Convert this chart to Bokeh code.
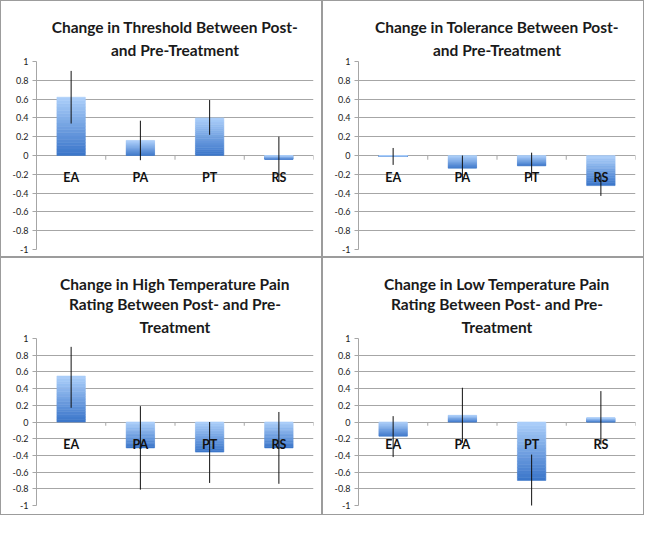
from bokeh.plotting import figure
from bokeh.layouts import gridplot
from bokeh.models import FixedTicker, ColumnDataSource, Title
from bokeh.core.properties import value
from bokeh.embed import file_html
from bokeh.resources import INLINE

categories = ["EA", "PA", "PT", "RS"]
y_ticks = [-1, -0.8, -0.6, -0.4, -0.2, 0, 0.2, 0.4, 0.6, 0.8, 1]
y_tick_labels = ["-1", "-0.8", "-0.6", "-0.4", "-0.2", "0", "0.2", "0.4", "0.6", "0.8", "1"]

titles = [
    ["Change in Threshold Between Post-", "and Pre-Treatment"],
    ["Change in Tolerance Between Post-", "and Pre-Treatment"],
    ["Change in High Temperature Pain", "Rating Between Post- and Pre-", "Treatment"],
    ["Change in Low Temperature Pain", "Rating Between Post- and Pre-", "Treatment"],
]

threshold_mean = [0.62, 0.16, 0.40, -0.04]
threshold_low = [0.34, -0.05, 0.22, -0.28]
threshold_high = [0.90, 0.37, 0.59, 0.20]

tolerance_mean = [-0.01, -0.135, -0.11, -0.32]
tolerance_low = [-0.10, -0.26, -0.27, -0.43]
tolerance_high = [0.08, 0.0, 0.03, -0.21]

high_temp_mean = [0.55, -0.31, -0.36, -0.31]
high_temp_low = [0.17, -0.81, -0.73, -0.74]
high_temp_high = [0.90, 0.19, 0.0, 0.12]

low_temp_mean = [-0.17, 0.08, -0.70, 0.05]
low_temp_low = [-0.42, -0.25, -1.01, -0.27]
low_temp_high = [0.07, 0.41, -0.39, 0.37]

series = [
    (threshold_mean, threshold_low, threshold_high),
    (tolerance_mean, tolerance_low, tolerance_high),
    (high_temp_mean, high_temp_low, high_temp_high),
    (low_temp_mean, low_temp_low, low_temp_high),
]

TOP_COLOR = (0xAD, 0xD0, 0xFA)
BOTTOM_COLOR = (0x39, 0x74, 0xC9)
N_SLICES = 18
BAR_HALF = 0.205
GRID_COLOR = "#a6a6a6"
FONT = "Lato"


def mix(t):
    r = [round(b + (a - b) * t) for a, b in zip(TOP_COLOR, BOTTOM_COLOR)]
    return "#%02x%02x%02x" % tuple(r)


def make_panel(idx):
    means, lows, highs = series[idx]
    top_row = idx < 2
    p = figure(
        width=322, height=257 if top_row else 258,
        x_range=(0, len(categories)), y_range=(-1, 1),
        output_backend="svg", toolbar_location=None,
        min_border_left=35, min_border_right=10,
        min_border_top=60 if top_row else 80,
        min_border_bottom=9 if top_row else 11,
        outline_line_color=None,
        background_fill_color="white", border_fill_color="white",
        styles={"border": "1px solid #9c9c9c"},
    )
    p.title.visible = False
    lines = titles[idx]
    for j, line in enumerate(reversed(lines)):
        t = Title(text=line, text_font=FONT, text_font_style="bold",
                  text_font_size="15.5px", text_color="#1a1a1a",
                  align="center", offset=-12,
                  standoff=6 if j == 0 else 0)
        p.add_layout(t, "above")

    p.xaxis.visible = False
    p.xgrid.visible = False
    ticker = FixedTicker(ticks=y_ticks)
    p.yaxis.ticker = ticker
    p.ygrid.ticker = ticker
    p.ygrid.grid_line_color = GRID_COLOR
    p.yaxis.major_label_overrides = dict(zip(y_ticks, y_tick_labels))
    p.yaxis.axis_line_color = GRID_COLOR
    p.yaxis.major_tick_line_color = GRID_COLOR
    p.yaxis.major_tick_out = 4
    p.yaxis.major_tick_in = 0
    p.yaxis.minor_tick_line_color = None
    p.yaxis.major_label_text_font = FONT
    p.yaxis.major_label_text_font_size = "9px"
    p.yaxis.major_label_text_color = "#222222"
    p.yaxis.major_label_standoff = 4

    xs = [i + 0.5 for i in range(len(categories))]

    # gradient bars made of horizontal slices
    left, right, bottom, top, color = [], [], [], [], []
    for x, m in zip(xs, means):
        lo, hi = min(0, m), max(0, m)
        h = (hi - lo) / N_SLICES
        for k in range(N_SLICES):
            left.append(x - BAR_HALF)
            right.append(x + BAR_HALF)
            bottom.append(lo + k * h)
            top.append(lo + (k + 1) * h)
            color.append(mix((k + 0.5) / N_SLICES))
    p.quad(left="left", right="right", bottom="bottom", top="top", fill_color="color",
           line_color="color", line_width=0.6,
           source=ColumnDataSource(dict(left=left, right=right, bottom=bottom, top=top, color=color)))

    # category tick marks on the zero line
    bx = list(range(1, len(categories) + 1))
    p.segment(x0=bx, y0=[0] * len(bx), x1=bx, y1=[-0.045] * len(bx),
              line_color=GRID_COLOR, line_width=1)

    # error bars
    p.segment(x0=xs, y0=lows, x1=xs, y1=highs, line_color="#111111", line_width=1)

    # category labels
    p.text(x=xs, y=[0] * len(xs), text=categories, text_font=value(FONT),
           text_font_style="bold", text_font_size="12.5px", text_color="#111111",
           text_align="center", text_baseline="middle", y_offset=22)
    return p


panels = [make_panel(i) for i in range(4)]
grid = gridplot([[panels[0], panels[1]], [panels[2], panels[3]]],
                toolbar_location=None)

open("out.html", "w").write(file_html(grid, INLINE))
